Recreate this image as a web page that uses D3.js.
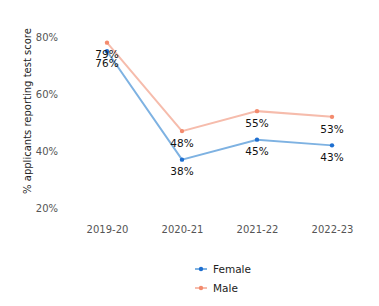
<!DOCTYPE html>
<html>
<head>
<meta charset="utf-8">
<script src="https://cdn.jsdelivr.net/npm/d3@7"></script>
<style>
  body { margin: 0; background: #fff; }
  text { font-family: "DejaVu Sans", sans-serif; }
</style>
</head>
<body>
<div id="container"></div>
<script>
/* DATA */
const years = ["2019-20", "2020-21", "2021-22", "2022-23"];
const female = [76, 38, 45, 43];
const male = [79, 48, 55, 53];
const yTicks = [20, 40, 60, 80];

const width = 379, height = 306;

const series = [
  { name: "Female", values: female, line: "#7eb2e2", dot: "#1f6fd0" },
  { name: "Male", values: male, line: "#f6bcac", dot: "#f38b6e" }
];

/* SCALES */
const xScale = d3.scalePoint()
  .domain(years)
  .range([107, 332]);

const yScale = d3.scaleLinear()
  .domain([20, 80])
  .range([211, 39.8]);

const svg = d3.select("#container")
  .append("svg")
  .attr("width", width)
  .attr("height", height);

// y axis (labels only)
const yAxis = svg.append("g")
  .attr("transform", "translate(58,0)")
  .call(d3.axisLeft(yScale).tickValues(yTicks).tickFormat(d => d + "%").tickSize(0).tickPadding(0));
yAxis.select(".domain").remove();
yAxis.selectAll("text")
  .attr("font-family", "DejaVu Sans")
  .attr("font-size", 10)
  .attr("fill", "#555")
  .attr("dy", "0.05em");

// x axis (labels only)
const xAxis = svg.append("g")
  .attr("transform", "translate(0,226)")
  .call(d3.axisBottom(xScale).tickSize(0).tickPadding(0));
xAxis.select(".domain").remove();
xAxis.selectAll("text")
  .attr("font-family", "DejaVu Sans")
  .attr("font-size", 10)
  .attr("fill", "#555");

// y title
svg.append("text")
  .attr("transform", "translate(31,111) rotate(-90)")
  .attr("text-anchor", "middle")
  .attr("font-size", 10)
  .attr("fill", "#222")
  .text("% applicants reporting test score");

// lines
const line = d3.line()
  .x((d, i) => xScale(years[i]))
  .y(d => yScale(d));

series.forEach(s => {
  svg.append("path")
    .datum(s.values)
    .attr("fill", "none")
    .attr("stroke", s.line)
    .attr("stroke-width", 2)
    .attr("d", line);

  svg.selectAll(null)
    .data(s.values)
    .join("circle")
    .attr("cx", (d, i) => xScale(years[i]))
    .attr("cy", d => yScale(d))
    .attr("r", 2.2)
    .attr("fill", s.dot);

  svg.selectAll(null)
    .data(s.values)
    .join("text")
    .attr("x", (d, i) => xScale(years[i]))
    .attr("y", d => yScale(d) + 12)
    .attr("dy", "0.35em")
    .attr("text-anchor", "middle")
    .attr("font-size", 10.5)
    .attr("fill", "#111")
    .text(d => d + "%");
});

// legend
const legend = svg.append("g");
series.forEach((s, i) => {
  const y = 269 + i * 19;
  legend.append("line")
    .attr("x1", 195).attr("x2", 207)
    .attr("y1", y).attr("y2", y)
    .attr("stroke", s.line).attr("stroke-width", 2);
  legend.append("circle")
    .attr("cx", 201).attr("cy", y).attr("r", 2.2)
    .attr("fill", s.dot);
  legend.append("text")
    .attr("x", 213).attr("y", y)
    .attr("dy", "0.35em")
    .attr("font-size", 10.5)
    .attr("fill", "#222")
    .text(s.name);
});
</script>
</body>
</html>
